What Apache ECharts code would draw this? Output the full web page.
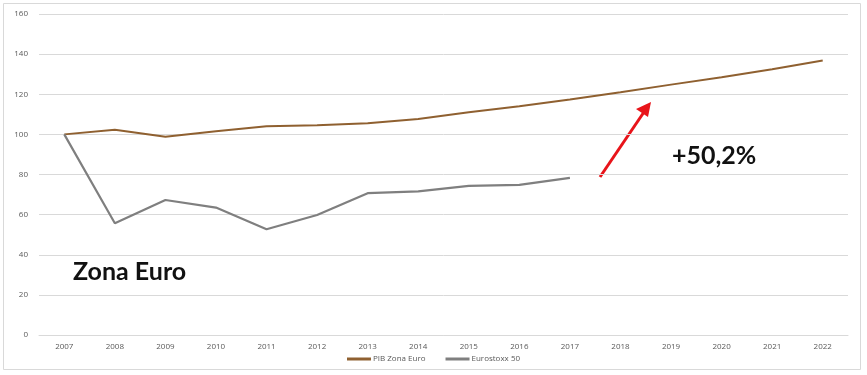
<!DOCTYPE html>
<html><head><meta charset="utf-8">
<script src="https://cdn.jsdelivr.net/npm/echarts@6/dist/echarts.min.js"></script>
<style>html,body{margin:0;padding:0;background:#fff}#c{width:867px;height:375px}</style>
</head><body><div id="c"></div>
<script>
const years = ['2007','2008','2009','2010','2011','2012','2013','2014','2015','2016','2017','2018','2019','2020','2021','2022'];
const pibZonaEuro = [100, 102.3, 98.8, 101.5, 104.0, 104.5, 105.6, 107.7, 111.0, 114.0, 117.4, 121.0, 124.8, 128.5, 132.5, 136.8];
const eurostoxx50 = [100, 55.7, 67.3, 63.5, 52.7, 59.8, 70.7, 71.6, 74.3, 74.8, 78.3];
const yTicks = [0, 20, 40, 60, 80, 100, 120, 140, 160];

const chart = echarts.init(document.getElementById('c'));
chart.setOption({
  animation: false,
  grid: {left: 39, right: 19, top: 14, bottom: 40},
  xAxis: {
    type: 'category', data: years, boundaryGap: true,
    axisLine: {lineStyle: {color: '#d9d9d9'}},
    axisTick: {show: false},
    axisLabel: {color: '#595959', fontSize: 8, fontFamily: 'Open Sans', margin: 8}
  },
  yAxis: {
    type: 'value', min: yTicks[0], max: yTicks[yTicks.length-1], interval: 20,
    axisLine: {show: false}, axisTick: {show: false},
    axisLabel: {color: '#595959', fontSize: 8, fontFamily: 'Open Sans', margin: 11},
    splitLine: {lineStyle: {color: '#d9d9d9', width: 1}}
  },
  legend: {
    bottom: 7, left: 'center', itemGap: 20, itemWidth: 24, itemHeight: 3,
    icon: 'rect',
    textStyle: {color: '#595959', fontSize: 8, fontFamily: 'Open Sans', padding: [0,0,0,-3]},
    data: ['PIB Zona Euro', 'Eurostoxx 50']
  },
  series: [
    {name: 'PIB Zona Euro', type: 'line', data: pibZonaEuro, symbol: 'none',
     lineStyle: {color: '#8f6030', width: 2}, itemStyle: {color: '#8f6030'}},
    {name: 'Eurostoxx 50', type: 'line', data: eurostoxx50, symbol: 'none',
     lineStyle: {color: '#7f7f7f', width: 2.2}, itemStyle: {color: '#7f7f7f'}}
  ],
  graphic: [
    {type: 'rect', shape: {x: 3.5, y: 3.5, width: 857, height: 366}, style: {fill: 'none', stroke: '#d9d9d9', lineWidth: 1}, silent: true, z: -1},
    {type: 'line', shape: {x1: 600, y1: 177, x2: 644, y2: 112}, style: {stroke: '#e8141a', lineWidth: 3}},
    {type: 'polygon', shape: {points: [[651, 102], [636, 109], [648, 117]]}, style: {fill: '#e8141a'}},
    {type: 'text', left: 672, top: 143, style: {text: '+50,2%', font: 'bold 25px Lato, sans-serif', fill: '#111'}},
    {type: 'text', left: 73, top: 259, style: {text: 'Zona Euro', font: 'bold 25px Lato, sans-serif', fill: '#111'}}
  ]
});
</script></body></html>
